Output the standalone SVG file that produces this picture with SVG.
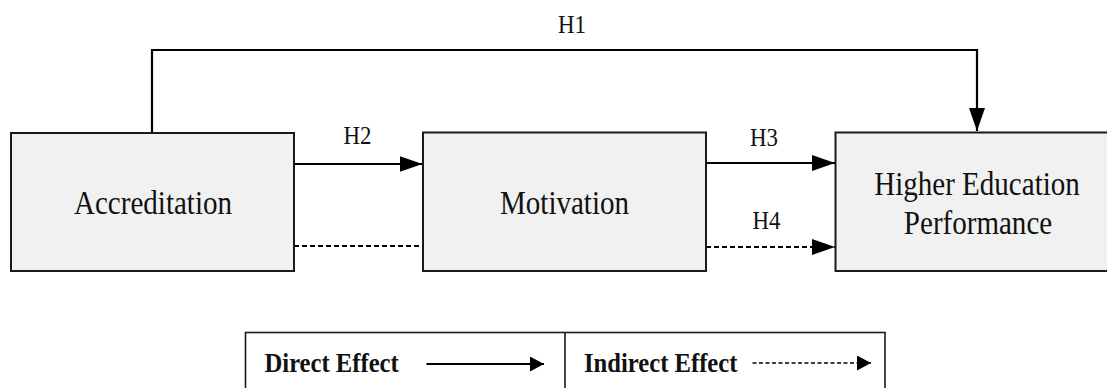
<svg xmlns="http://www.w3.org/2000/svg" width="1107" height="388" viewBox="0 0 1107 388">
<defs>
<style>
.box{fill:#f1f1f1;stroke:#1a1a1a;stroke-width:2}
.lg{fill:#ffffff;stroke:#1a1a1a;stroke-width:1.6}
.ln{fill:none;stroke:#000;stroke-width:2.2}
.ds{fill:none;stroke:#000;stroke-width:2;stroke-dasharray:5 3}
.dsl{fill:none;stroke:#000;stroke-width:1.6;stroke-dasharray:4 2.5}
text{font-family:'Liberation Serif',serif;fill:#111;text-anchor:middle}
.big{font-size:33px}
.h{font-size:26px}
.leg{font-size:28px;font-weight:bold;text-anchor:start}
</style>
<marker id="ah" markerUnits="userSpaceOnUse" markerWidth="24" markerHeight="16" refX="23" refY="8" orient="auto" viewBox="0 0 24 16">
<path d="M0,0 L23,8 L0,16 z" fill="#000"/>
</marker>
<marker id="ahs" markerUnits="userSpaceOnUse" markerWidth="15" markerHeight="15" refX="14" refY="7.5" orient="auto" viewBox="0 0 15 15">
<path d="M0,0 L14,7.5 L0,15 z" fill="#000"/>
</marker>
</defs>
<rect width="1107" height="388" fill="#fff"/>
<g id="connectors">
<path class="ln" d="M152,133 V50 H977 V131" marker-end="url(#ah)"/>
<line class="ln" x1="294" y1="164" x2="422.5" y2="164" marker-end="url(#ah)"/>
<line class="ds" x1="294" y1="246" x2="423" y2="246"/>
<line class="ln" x1="706" y1="163" x2="835" y2="163" marker-end="url(#ah)"/>
<line class="ds" x1="706" y1="247" x2="835" y2="247" marker-end="url(#ah)"/>
</g>
<g id="accreditation">
<rect class="box" x="11" y="133" width="283" height="138"/>
<text class="big" font-family="Liberation Serif, serif" transform="translate(153,214) scale(0.88,1)">Accreditation</text>
</g>
<g id="motivation">
<rect class="box" x="423" y="132.5" width="283" height="138.5"/>
<text class="big" font-family="Liberation Serif, serif" transform="translate(564.5,214) scale(0.88,1)">Motivation</text>
</g>
<g id="performance">
<rect class="box" x="835.5" y="132.5" width="280" height="138.5"/>
<text class="big" font-family="Liberation Serif, serif" transform="translate(977,195) scale(0.88,1)">Higher Education</text>
<text class="big" font-family="Liberation Serif, serif" transform="translate(978,234) scale(0.88,1)">Performance</text>
</g>
<g id="labels">
<text class="h" font-family="Liberation Serif, serif" transform="translate(572,33) scale(0.88,1)">H1</text>
<text class="h" font-family="Liberation Serif, serif" transform="translate(357.5,144) scale(0.88,1)">H2</text>
<text class="h" font-family="Liberation Serif, serif" transform="translate(764,146) scale(0.88,1)">H3</text>
<text class="h" font-family="Liberation Serif, serif" transform="translate(766.5,229) scale(0.88,1)">H4</text>
</g>
<g id="legend">
<rect class="lg" x="245.5" y="332.5" width="639.5" height="70"/>
<line x1="565" y1="332.5" x2="565" y2="390" stroke="#1a1a1a" stroke-width="1.6"/>
<text class="leg" font-family="Liberation Serif, serif" transform="translate(264.5,372) scale(0.88,1)">Direct Effect</text>
<line class="ln" stroke-width="1.8" x1="426.5" y1="364" x2="544" y2="364" marker-end="url(#ahs)"/>
<text class="leg" font-family="Liberation Serif, serif" transform="translate(584,372) scale(0.88,1)">Indirect Effect</text>
<line class="dsl" x1="752.5" y1="363" x2="871" y2="363" marker-end="url(#ahs)"/>
</g>
</svg>
